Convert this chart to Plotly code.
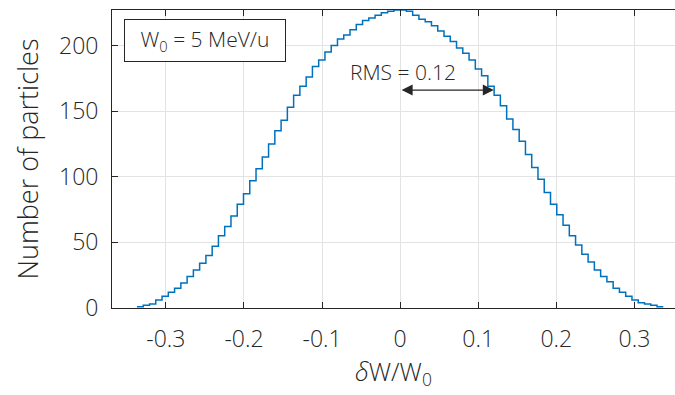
import plotly.graph_objects as go

# Energy-spread histogram: 84 equal bins spanning dW/W0 = -0.337 .. +0.337
bin_lo = -0.337
bin_hi = 0.337
counts = [1, 2, 3, 6, 9, 12, 15, 19, 24, 29,
          34, 40, 47, 55, 62, 70, 79, 87, 97, 106,
          115, 125, 135, 143, 153, 162, 169, 176, 184, 189,
          195, 200, 205, 208, 212, 216, 219, 221, 223, 225,
          226, 227, 227, 226, 223, 220, 218, 215, 211, 207,
          203, 198, 194, 189, 182, 177, 169, 162, 154, 144,
          136, 127, 117, 107, 98, 88, 79, 71, 63, 55,
          48, 41, 35, 29, 24, 20, 15, 12, 9, 6,
          4, 3, 2, 1]

rms_value = 0.12
beam_label = "W<sub>0</sub> = 5 MeV/u"
x_ticks = [-0.3, -0.2, -0.1, 0, 0.1, 0.2, 0.3]
y_ticks = [0, 50, 100, 150, 200]

n_bins = len(counts)
width = (bin_hi - bin_lo) / n_bins
edges = [bin_lo + i * width for i in range(n_bins + 1)]

FONT = "Open Sans"
WEIGHT = 300
INK = "#262626"


def font(size):
    return dict(family=FONT, size=size, color=INK, weight=WEIGHT)


fig = go.Figure()
fig.add_trace(go.Scatter(
    x=edges,
    y=counts + [counts[-1]],
    mode="lines",
    line=dict(shape="hv", color="#0072BD", width=1.5),
    hoverinfo="skip",
    showlegend=False,
))

# double-headed RMS arrow from the centre to one RMS width
arrow_y = 166
fig.add_annotation(
    x=rms_value, y=arrow_y, ax=0, ay=arrow_y,
    xref="x", yref="y", axref="x", ayref="y",
    text="", showarrow=True, arrowside="end+start",
    arrowhead=2, arrowsize=2, arrowwidth=1.1, arrowcolor=INK,
)
fig.add_annotation(
    x=0.004, y=180, xref="x", yref="y",
    text=f"RMS = {rms_value:.2f}", showarrow=False,
    font=font(21),
)
# beam energy label box
fig.add_annotation(
    x=-0.2505, y=204, xref="x", yref="y",
    text=beam_label, showarrow=False,
    font=font(21),
    bordercolor=INK, borderwidth=1, borderpad=0,
    bgcolor="white", width=160, height=41,
)

axis_common = dict(
    showline=True, linecolor=INK, linewidth=1,
    ticks="inside", ticklen=6, tickwidth=1, tickcolor=INK,
    showgrid=True, gridcolor="#e3e3e3", gridwidth=1,
    zeroline=False,
    tickfont=font(23),
)

fig.update_xaxes(
    range=[-0.369, 0.352], tickvals=x_ticks,
    ticktext=[f"{v:g}" for v in x_ticks],
    mirror="ticks", ticklabelstandoff=10,
    title=dict(text="<i>δ</i>W/W<sub>0</sub>", standoff=6, font=font(25)),
    **axis_common,
)
fig.update_yaxes(
    range=[0, 227], tickvals=y_ticks,
    mirror=False, ticklabelstandoff=8,
    title=dict(text="Number of particles", standoff=12, font=font(27)),
    **axis_common,
)

fig.update_layout(
    width=675, height=395,
    margin=dict(l=112, r=0, t=10, b=87),
    paper_bgcolor="white", plot_bgcolor="white",
    font=dict(family=FONT, color=INK, weight=WEIGHT),
)

fig.write_html("out.html")
